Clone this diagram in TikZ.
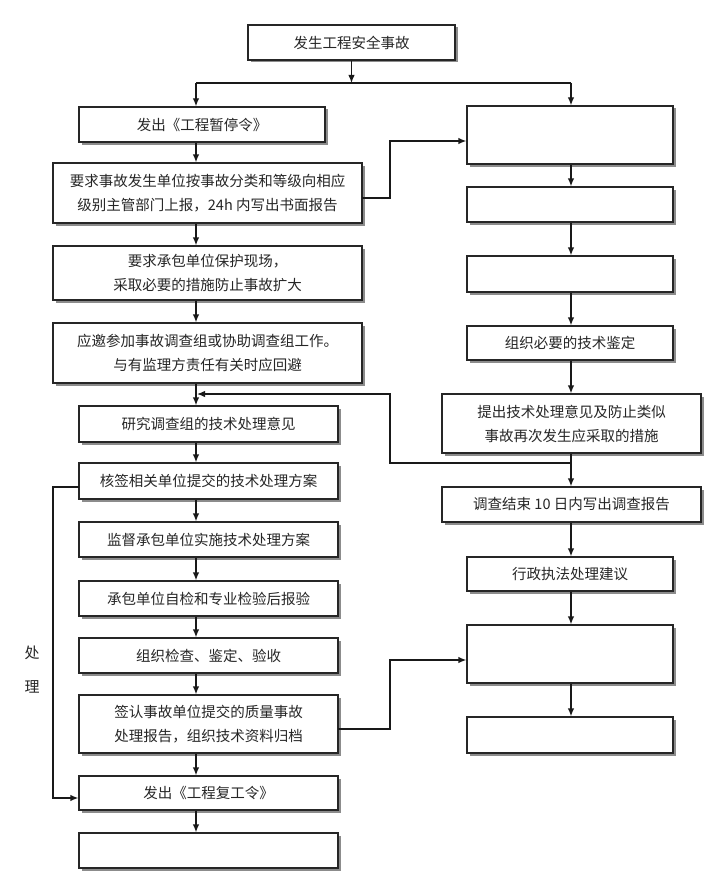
\documentclass[tikz,border=0pt]{standalone}
\usepackage{fontspec}
\setmainfont{Noto Sans CJK SC}
\usetikzlibrary{arrows.meta,shadows}
\newcommand\mybox[6]{\node[bx, minimum width={(#4)-(#2)}, minimum height={(#5)-(#3)}] (#1) at ({((#2)+(#4))/2},{((#3)+(#5))/2}) {#6};}
\begin{document}
\begin{tikzpicture}[x=1pt,y=-1pt,
  bx/.style={draw=black!85, line width=1.3pt, fill=white,
    drop shadow={shadow xshift=2.5pt, shadow yshift=-2.5pt, fill=black!45, opacity=1},
    inner sep=0pt, font=\fontsize{14.5}{24}\selectfont, align=center, text=black!85},
  arr/.style={line width=1.3pt, draw=black!90, -{Latex[length=8pt,width=6.5pt]}},
  ln/.style={line width=1.3pt, draw=black!90},
  lbl/.style={font=\fontsize{15}{18}\selectfont, text=black!85}]
\fill[white] (0,0) rectangle (720,888);
\useasboundingbox (0,0) rectangle (720,888);

% top
\mybox{top}{248}{25}{455}{60}{发生工程安全事故}
% left column
\mybox{L1}{79}{107}{325}{142}{发出《工程暂停令》}
\mybox{L2}{53}{163}{362}{223}{要求事故发生单位按事故分类和等级向相应\\级别主管部门上报，24h 内写出书面报告}
\mybox{L3}{53}{246}{362}{300}{要求承包单位保护现场，\\采取必要的措施防止事故扩大}
\mybox{L4}{53}{323}{362}{383}{应邀参加事故调查组或协助调查组工作。\\与有监理方责任有关时应回避}
\mybox{L5}{79}{406}{338}{442}{研究调查组的技术处理意见}
\mybox{L6}{79}{463}{338}{499}{核签相关单位提交的技术处理方案}
\mybox{L7}{79}{522}{338}{557}{监督承包单位实施技术处理方案}
\mybox{L8}{79}{581}{338}{616}{承包单位自检和专业检验后报验}
\mybox{L9}{79}{638}{338}{673}{组织检查、鉴定、验收}
\mybox{L10}{79}{695}{338}{753}{签认事故单位提交的质量事故\\处理报告，组织技术资料归档}
\mybox{L11}{79}{776}{338}{810}{发出《工程复工令》}
\mybox{L12}{79}{833}{338}{868}{}
% right column
\mybox{R1}{467}{106}{673}{164}{}
\mybox{R2}{467}{187}{673}{222}{}
\mybox{R3}{467}{256}{673}{292}{}
\mybox{R4}{467}{326}{673}{360}{组织必要的技术鉴定}
\mybox{R5}{442}{394}{701}{453}{提出技术处理意见及防止类似\\事故再次发生应采取的措施}
\mybox{R6}{442}{487}{701}{522}{调查结束 10 日内写出调查报告}
\mybox{R7}{467}{557}{673}{591}{行政执法处理建议}
\mybox{R8}{467}{625}{673}{683}{}
\mybox{R9}{467}{717}{673}{753}{}

\node[lbl] (c1) at (32,653) {处};
\node[lbl] (c2) at (32,687) {理};

% coordinates
\coordinate (xl) at (196,0);
\coordinate (xr) at (571,0);
\coordinate (j) at (351.5,83);
\coordinate (jl) at (196,83);
\coordinate (jr) at (571,83);

% top junction
\draw[arr] (top.south) -- (j);
\draw[ln] (jl) -- (jr);
\draw[arr] (jl) -- (L1.north -| xl);
\draw[arr] (jr) -- (R1.north -| xr);

% left chain
\draw[arr] (L1.south -| xl) -- (L2.north -| xl);
\draw[arr] (L2.south -| xl) -- (L3.north -| xl);
\draw[arr] (L3.south -| xl) -- (L4.north -| xl);
\draw[arr] (L4.south -| xl) -- (L5.north -| xl);
\draw[arr] (L5.south -| xl) -- (L6.north -| xl);
\draw[arr] (L6.south -| xl) -- (L7.north -| xl);
\draw[arr] (L7.south -| xl) -- (L8.north -| xl);
\draw[arr] (L8.south -| xl) -- (L9.north -| xl);
\draw[arr] (L9.south -| xl) -- (L10.north -| xl);
\draw[arr] (L10.south -| xl) -- (L11.north -| xl);
\draw[arr] (L11.south -| xl) -- (L12.north -| xl);

% right chain
\draw[arr] (R1.south -| xr) -- (R2.north -| xr);
\draw[arr] (R2.south -| xr) -- (R3.north -| xr);
\draw[arr] (R3.south -| xr) -- (R4.north -| xr);
\draw[arr] (R4.south -| xr) -- (R5.north -| xr);
\draw[arr] (R5.south -| xr) -- (R6.north -| xr);
\draw[arr] (R6.south -| xr) -- (R7.north -| xr);
\draw[arr] (R7.south -| xr) -- (R8.north -| xr);
\draw[arr] (R8.south -| xr) -- (R9.north -| xr);

% cross links
\coordinate (a1) at (362,198);
\coordinate (a2) at (390,198);
\coordinate (a3) at (390,141);
\draw[arr] (a1) -- (a2) -- (a3) -- (R1.west |- a3);

\coordinate (b1) at (571,463);
\coordinate (b2) at (390,463);
\coordinate (b3) at (390,394);
\coordinate (b4) at (197,394);
\draw[arr] (b1) -- (b2) -- (b3) -- (b4);

\coordinate (d1) at (79,487);
\coordinate (d2) at (53,487);
\coordinate (d3) at (53,798);
\draw[arr] (d1) -- (d2) -- (d3) -- (L11.west |- d3);

\coordinate (e1) at (338,729);
\coordinate (e2) at (390,729);
\coordinate (e3) at (390,660);
\draw[arr] (e1) -- (e2) -- (e3) -- (R8.west |- e3);
\end{tikzpicture}
\end{document}
